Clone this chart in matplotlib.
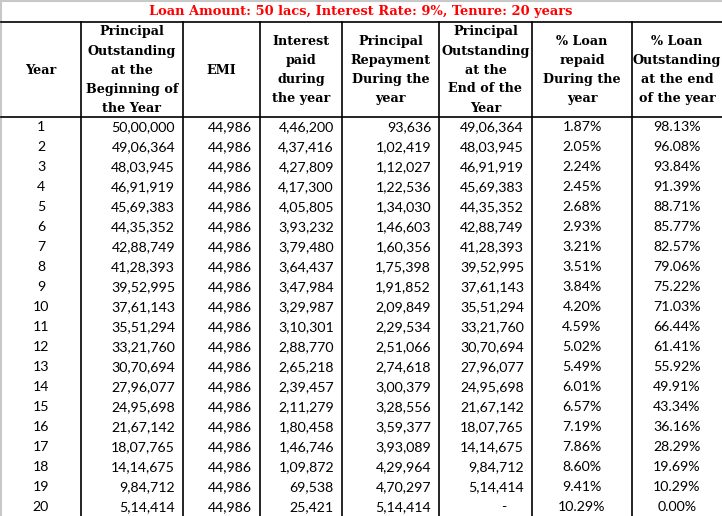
import matplotlib.pyplot as plt

title = "Loan Amount: 50 lacs, Interest Rate: 9%, Tenure: 20 years"
headers = [
    "Year",
    "Principal\nOutstanding\nat the\nBeginning of\nthe Year",
    "EMI",
    "Interest\npaid\nduring\nthe year",
    "Principal\nRepayment\nDuring the\nyear",
    "Principal\nOutstanding\nat the\nEnd of the\nYear",
    "% Loan\nrepaid\nDuring the\nyear",
    "% Loan\nOutstanding\nat the end\nof the year",
]

years = list(range(1, 21))
opening = [5000000, 4906364, 4803945, 4691919, 4569383, 4435352, 4288749, 4128393,
           3952995, 3761143, 3551294, 3321760, 3070694, 2796077, 2495698, 2167142,
           1807765, 1414675, 984712, 514414]
emi = [44986] * 20
interest = [446200, 437416, 427809, 417300, 405805, 393232, 379480, 364437, 347984,
            329987, 310301, 288770, 265218, 239457, 211279, 180458, 146746, 109872,
            69538, 25421]
principal = [93636, 102419, 112027, 122536, 134030, 146603, 160356, 175398, 191852,
             209849, 229534, 251066, 274618, 300379, 328556, 359377, 393089, 429964,
             470297, 514414]
closing = [4906364, 4803945, 4691919, 4569383, 4435352, 4288749, 4128393, 3952995,
           3761143, 3551294, 3321760, 3070694, 2796077, 2495698, 2167142, 1807765,
           1414675, 984712, 514414, None]
pct_repaid = [1.87, 2.05, 2.24, 2.45, 2.68, 2.93, 3.21, 3.51, 3.84, 4.20, 4.59, 5.02,
              5.49, 6.01, 6.57, 7.19, 7.86, 8.60, 9.41, 10.29]
pct_out = [98.13, 96.08, 93.84, 91.39, 88.71, 85.77, 82.57, 79.06, 75.22, 71.03,
           66.44, 61.41, 55.92, 49.91, 43.34, 36.16, 28.29, 19.69, 10.29, 0.00]


def inr(n):
    # indian digit grouping: 12,34,567
    s = str(n)
    if len(s) <= 3:
        return s
    head, tail = s[:-3], s[-3:]
    parts = []
    while len(head) > 2:
        parts.insert(0, head[-2:])
        head = head[:-2]
    if head:
        parts.insert(0, head)
    return ",".join(parts) + "," + tail


W, H = 722, 516
fig = plt.figure(figsize=(W / 100, H / 100), dpi=100)
ax = fig.add_axes([0, 0, 1, 1])
ax.set_xlim(0, W)
ax.set_ylim(H, 0)
ax.axis("off")

col_x = [1, 81, 183, 260, 342, 439, 532, 632, 722]
head_top, head_bot = 21.5, 116.5
row_h = 20
serif = "DejaVu Serif"
sans = "Lato"
dsize = 10.2

# outer grey border of the sheet
ax.plot([0.5, 0.5], [0, H], color="#c8c8c8", lw=1.5)
ax.plot([0, W], [0.5, 0.5], color="#c8c8c8", lw=1.5)

ax.text(W / 2, 11.5, title, color="#ff0000", fontsize=9.4, fontweight="bold",
        family=serif, ha="center", va="center")

ax.plot([1, W], [head_top, head_top], color="black", lw=1.2)
ax.plot([1, W], [head_bot, head_bot], color="black", lw=1.2)
for x in col_x[1:-1]:
    ax.plot([x, x], [head_top, H], color="black", lw=1.2)

for i, h in enumerate(headers):
    cx = (col_x[i] + col_x[i + 1]) / 2
    ax.text(cx, (head_top + head_bot) / 2 + 1, h, fontsize=9.2, fontweight="bold",
            family=serif, ha="center", va="center", linespacing=1.6)

pad = 8
for r in range(20):
    y = head_bot + 10.5 + r * row_h
    ax.text((col_x[0] + col_x[1]) / 2, y, str(years[r]), fontsize=dsize, family=sans,
            ha="center", va="center")
    for c, vals in enumerate([opening, emi, interest, principal], start=1):
        ax.text(col_x[c + 1] - pad, y, inr(vals[r]), fontsize=dsize, family=sans,
                ha="right", va="center")
    if closing[r] is None:
        ax.text(col_x[6] - 28, y, "-", fontsize=dsize, family=sans,
                ha="center", va="center")
    else:
        ax.text(col_x[6] - pad, y, inr(closing[r]), fontsize=dsize, family=sans,
                ha="right", va="center")
    ax.text((col_x[6] + col_x[7]) / 2, y, f"{pct_repaid[r]:.2f}%", fontsize=dsize,
            family=sans, ha="center", va="center")
    ax.text((col_x[7] + col_x[8]) / 2, y, f"{pct_out[r]:.2f}%", fontsize=dsize,
            family=sans, ha="center", va="center")

fig.savefig("out.png", dpi=100)
